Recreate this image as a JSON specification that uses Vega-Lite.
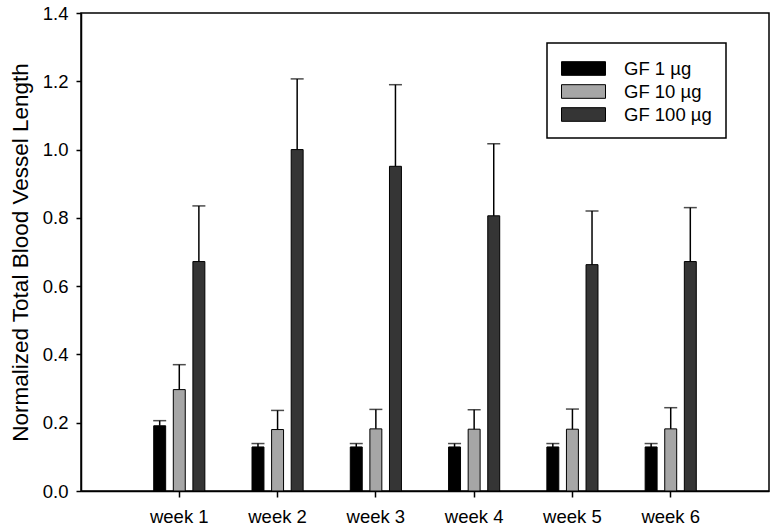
{
  "$schema": "https://vega.github.io/schema/vega-lite/v6.json",
  "width": 688,
  "height": 478,
  "autosize": {"type": "none"},
  "padding": {"left": 81, "top": 13, "right": 2, "bottom": 40},
  "background": "white",
  "config": {
    "font": "Liberation Sans",
    "view": {"stroke": "black", "strokeWidth": 1.5},
    "axis": {"domainColor": "black", "tickColor": "black", "labelColor": "black", "titleColor": "black", "domainWidth": 1.5, "tickWidth": 1.5, "grid": false},
    "legend": {"strokeWidth": 1.5}
  },
  "data": {
    "values": [
      {"week": "week 1", "dose": "GF 1 µg", "value": 0.191, "upper": 0.206},
      {"week": "week 1", "dose": "GF 10 µg", "value": 0.297, "upper": 0.370},
      {"week": "week 1", "dose": "GF 100 µg", "value": 0.672, "upper": 0.835},
      {"week": "week 2", "dose": "GF 1 µg", "value": 0.129, "upper": 0.139},
      {"week": "week 2", "dose": "GF 10 µg", "value": 0.180, "upper": 0.236},
      {"week": "week 2", "dose": "GF 100 µg", "value": 1.000, "upper": 1.207},
      {"week": "week 3", "dose": "GF 1 µg", "value": 0.129, "upper": 0.139},
      {"week": "week 3", "dose": "GF 10 µg", "value": 0.182, "upper": 0.239},
      {"week": "week 3", "dose": "GF 100 µg", "value": 0.951, "upper": 1.190},
      {"week": "week 4", "dose": "GF 1 µg", "value": 0.129, "upper": 0.139},
      {"week": "week 4", "dose": "GF 10 µg", "value": 0.181, "upper": 0.238},
      {"week": "week 4", "dose": "GF 100 µg", "value": 0.806, "upper": 1.017},
      {"week": "week 5", "dose": "GF 1 µg", "value": 0.129, "upper": 0.139},
      {"week": "week 5", "dose": "GF 10 µg", "value": 0.181, "upper": 0.240},
      {"week": "week 5", "dose": "GF 100 µg", "value": 0.663, "upper": 0.820},
      {"week": "week 6", "dose": "GF 1 µg", "value": 0.129, "upper": 0.139},
      {"week": "week 6", "dose": "GF 10 µg", "value": 0.182, "upper": 0.244},
      {"week": "week 6", "dose": "GF 100 µg", "value": 0.672, "upper": 0.830}
    ]
  },
  "encoding": {
    "x": {
      "field": "week", "type": "nominal", "sort": null,
      "scale": {"paddingInner": 0.4, "paddingOuter": 0.7},
      "axis": {"title": null, "labelAngle": 0, "labelFontSize": 18.5, "tickSize": 6, "labelPadding": 10}
    },
    "xOffset": {
      "field": "dose", "type": "nominal", "sort": ["GF 1 µg", "GF 10 µg", "GF 100 µg"],
      "scale": {"paddingInner": 0.39, "paddingOuter": 0.2}
    }
  },
  "layer": [
    {
      "mark": {"type": "bar", "stroke": "black", "strokeWidth": 1},
      "encoding": {
        "y": {
          "field": "value", "type": "quantitative",
          "scale": {"domain": [0, 1.4], "nice": false},
          "axis": {
            "values": [0, 0.2, 0.4, 0.6, 0.8, 1.0, 1.2, 1.4], "format": ".1f",
            "labelFontSize": 18.5, "tickSize": 5, "labelPadding": 8,
            "title": "Normalized Total Blood Vessel Length", "titleFontSize": 22.5,
            "titleFontWeight": "normal", "titlePadding": 10
          }
        },
        "color": {
          "field": "dose", "type": "nominal",
          "scale": {"domain": ["GF 1 µg", "GF 10 µg", "GF 100 µg"], "range": ["#000000", "#a6a6a6", "#353535"]},
          "legend": {
            "orient": "none", "legendX": 466, "legendY": 30, "title": null,
            "labelFontSize": 18.5, "labelColor": "black",
            "symbolType": "M-2,-0.62H2V0.62H-2Z", "symbolSize": 484, "symbolOffset": 11,
            "symbolStrokeColor": "black", "symbolStrokeWidth": 1, "symbolOpacity": 1,
            "padding": 14, "strokeColor": "black", "fillColor": "white",
            "rowPadding": 2, "labelOffset": 29
          }
        }
      }
    },
    {
      "mark": {"type": "rule", "color": "black", "strokeWidth": 1.5},
      "encoding": {
        "y": {"field": "value", "type": "quantitative"},
        "y2": {"field": "upper"}
      }
    },
    {
      "mark": {"type": "tick", "color": "black", "thickness": 1.5, "size": 13, "orient": "horizontal"},
      "encoding": {
        "y": {"field": "upper", "type": "quantitative"}
      }
    }
  ]
}
